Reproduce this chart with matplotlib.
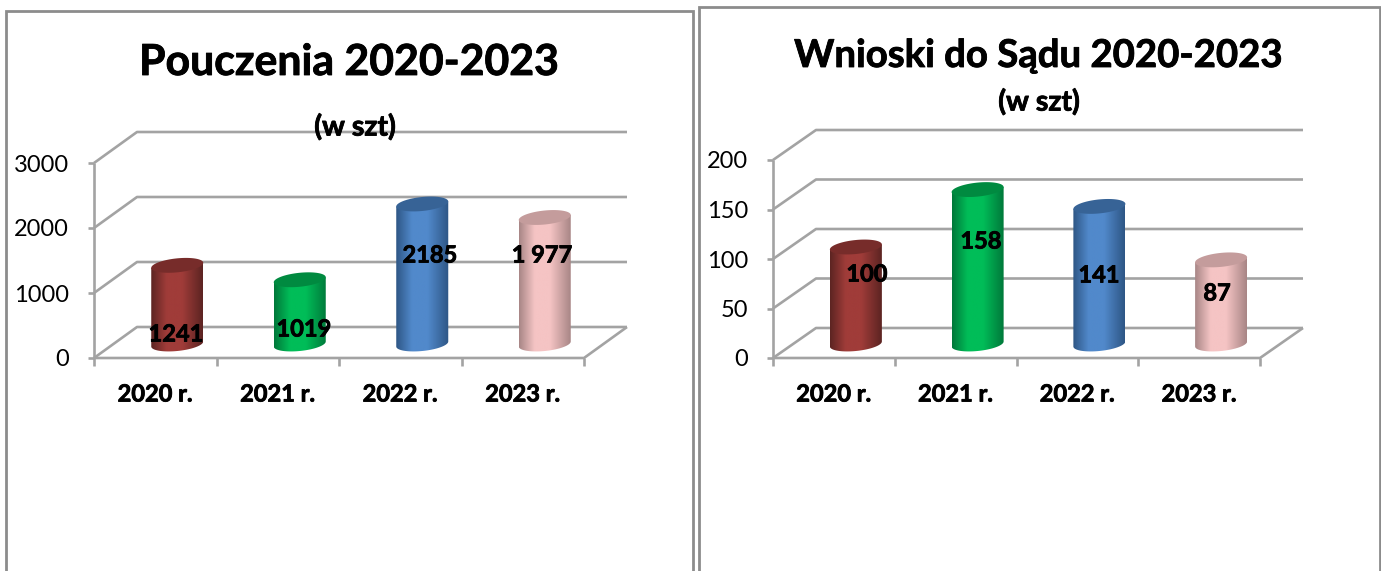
import numpy as np
import matplotlib
matplotlib.use("Agg")
import matplotlib.pyplot as plt
import matplotlib.patheffects as pe
from matplotlib.colors import LinearSegmentedColormap
from matplotlib.patches import PathPatch
from matplotlib.path import Path

W, H = 1381, 571

years = ['2020 r.', '2021 r.', '2022 r.', '2023 r.']
pouczenia = [1241, 1019, 2185, 1977]
pouczenia_labels = ['1241', '1019', '2185', '1 977']
wnioski = [100, 158, 141, 87]
wnioski_labels = ['100', '158', '141', '87']
pouczenia_ticks = [0, 1000, 2000, 3000]
wnioski_ticks = [0, 50, 100, 150, 200]

edge_cols = ['#5c2422', '#00783a', '#2e5685', '#a88686']
mid_cols = ['#a03c39', '#00bd58', '#5189cb', '#f5c4c4']
top_cols = ['#772c2a', '#008a40', '#376396', '#c49c9c']

GRID = '#a3a3a3'
FRAME = '#8c8c8c'

plt.rcParams['font.family'] = ['Lato', 'DejaVu Sans']

fig = plt.figure(figsize=(W / 100, H / 100), dpi=100)
fig.patch.set_facecolor('white')


def txt(x, y, s, size, ha='center', weight='bold', zorder=10):
    t = fig.text(x / W, 1 - (y + 2) / H, s, fontsize=size, ha=ha, va='center',
                 fontweight=weight, color='black', zorder=zorder)
    if weight == 'bold':
        t.set_path_effects([pe.withStroke(linewidth=0.6, foreground='black')])


def frame(x0, y0, x1, lw):
    fig.add_artist(plt.Line2D([x0 / W, x0 / W, x1 / W, x1 / W],
                              [0, 1 - y0 / H, 1 - y0 / H, 0],
                              color=FRAME, lw=lw, solid_joinstyle='miter'))


def chart(left, right, y0, ytop, ticks, values, labels, label_xy, depth, bar_shift):
    # axes covers the front plane of the fake 3d box
    ax = fig.add_axes([left / W, 1 - y0 / H, (right - left) / W, (y0 - ytop) / H])
    ax.set_xlim(-0.5, 3.5)
    ax.set_ylim(ticks[0], ticks[-1])
    ax.axis('off')
    sx = 4 / (right - left)          # data units per pixel
    sy = (ticks[-1] - ticks[0]) / (y0 - ytop)
    dx, dy = depth[0] * sx, depth[1] * sy
    lw = 1.9
    kw = dict(color=GRID, lw=lw, clip_on=False, zorder=1, solid_capstyle='butt')
    x_l, x_r = -0.5, 3.5
    for t in ticks:
        ax.plot([x_l, x_l + dx, x_r + dx], [t, t + dy, t + dy], **kw)
        ax.plot([x_l - 6 * sx, x_l], [t, t], **kw)
    ax.plot([x_l, x_l], [ticks[0], ticks[-1]], **kw)
    ax.plot([x_l, x_r, x_r + dx], [0, 0, dy], **kw)
    for b in np.arange(-0.5, 4):
        ax.plot([b, b], [0, -8 * sy], **kw)

    # cylinders
    hw = 26 * sx
    ry = 7 * sy
    tilt = 2.5 * sy
    t = np.linspace(0, np.pi, 60)
    for i, v in enumerate(values):
        cx = i + bar_shift * sx
        base = 14 * sy
        top = base + v - 2 * sy
        xs = cx + hw * np.cos(t)
        low = -ry * np.sin(t) + tilt * np.cos(t)
        body_x = np.r_[xs, xs[::-1]]
        body_y = np.r_[top + tilt * np.cos(t), (base + low)[::-1]]
        body = PathPatch(Path(np.c_[body_x, body_y]), fc='none', ec='none',
                         transform=ax.transData, clip_on=False)
        ax.add_patch(body)
        cmap = LinearSegmentedColormap.from_list(
            'c', [(0, edge_cols[i]), (0.3, mid_cols[i]), (0.6, mid_cols[i]), (1, edge_cols[i])])
        img = ax.imshow(np.linspace(0, 1, 128)[None, :], cmap=cmap, aspect='auto',
                        extent=[cx - hw, cx + hw, base - ry - tilt, top + ry + tilt],
                        zorder=3)
        img.set_clip_path(body)
        rim = np.linspace(0, 2 * np.pi, 120)
        ax.fill(cx + hw * np.cos(rim),
                top + ry * np.sin(rim) + tilt * np.cos(rim),
                color=top_cols[i], zorder=4, clip_on=False, lw=0)
    ax.set_xlim(-0.5, 3.5)
    ax.set_ylim(ticks[0], ticks[-1])

    for t_ in ticks:
        ypx = y0 - (t_ - ticks[0]) / sy
        txt(left - 25, ypx, str(t_), 17, ha='right', weight='normal')
    for i, name in enumerate(years):
        txt(left + (i + 0.5) / sx, y0 + 34, name, 17)
    for (lx, ly), s in zip(label_xy, labels):
        txt(lx, ly, s, 17)


frame(6, 11, 693, 2)
frame(699, 7, 1380, 2)

chart(94, 584, 358, 163, pouczenia_ticks, pouczenia, pouczenia_labels,
      [(176, 332), (304, 327), (430, 253), (542, 253)], (43, 31), 22)
chart(773, 1260, 358, 160, wnioski_ticks, wnioski, wnioski_labels,
      [(867, 272), (981, 239), (1099, 273), (1217, 291)], (43, 30), 22)

txt(349, 60, 'Pouczenia 2020-2023', 30.8)
txt(355, 125, '(w szt)', 20.5)
txt(1039, 54, 'Wnioski do Sądu 2020-2023', 27.6)
txt(1039, 100, '(w szt)', 20.5)

fig.savefig('out.png', dpi=100)
